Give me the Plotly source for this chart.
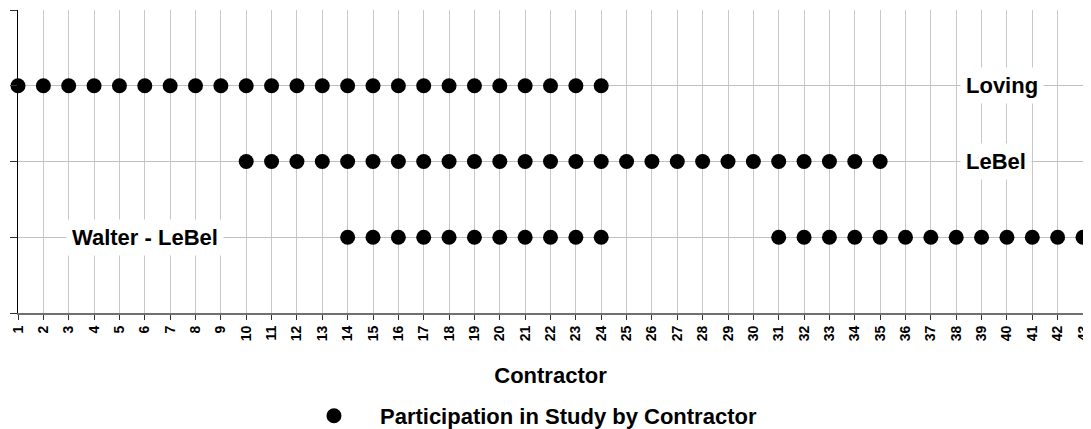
import plotly.graph_objects as go

contractors = list(range(1, 44))
row_labels = ["Walter - LeBel", "LeBel", "Loving"]
row_levels = [1, 2, 3]

loving = [1, 2, 3, 4, 5, 6, 7, 8, 9, 10, 11, 12, 13, 14, 15, 16, 17, 18, 19, 20, 21, 22, 23, 24]
lebel = [10, 11, 12, 13, 14, 15, 16, 17, 18, 19, 20, 21, 22, 23, 24, 25, 26, 27, 28, 29, 30, 31, 32, 33, 34, 35]
walter_lebel = [14, 15, 16, 17, 18, 19, 20, 21, 22, 23, 24, 31, 32, 33, 34, 35, 36, 37, 38, 39, 40, 41, 42, 43]

label_x = [6.0, 39.57, 39.8]  # label positions (Walter-LeBel, LeBel, Loving)

xs = loving + lebel + walter_lebel
ys = [3] * len(loving) + [2] * len(lebel) + [1] * len(walter_lebel)

FONT = "Liberation Sans, Arial"

fig = go.Figure()
fig.add_trace(go.Scatter(
    x=xs, y=ys, mode="markers",
    marker=dict(color="black", size=15, symbol="circle"),
    name="<b>Participation in Study by Contractor</b>",
    cliponaxis=False, showlegend=True,
))

for lab, lvl, lx in zip(row_labels, row_levels, label_x):
    fig.add_annotation(x=lx, y=lvl, text="<b>" + lab + "</b>", showarrow=False,
                       font=dict(family=FONT, size=22, color="black"),
                       bgcolor="white", borderpad=5)

# the page body adds an 8px offset; figure sized to fill the rest of the window
fig.update_layout(
    width=1083, height=421,
    margin=dict(l=10, r=8, t=2, b=116, autoexpand=False),
    plot_bgcolor="white", paper_bgcolor="white",
    font=dict(family=FONT, color="black"),
    showlegend=True,
    legend=dict(orientation="h", x=0.2535, xanchor="left", y=-0.34, yanchor="middle",
                font=dict(size=22), itemwidth=82, bgcolor="rgba(0,0,0,0)"),
)
fig.update_xaxes(
    range=[1, 43], tickmode="array", tickvals=contractors,
    ticktext=["<b>%d</b>" % c for c in contractors],
    tickangle=-90, tickfont=dict(size=14),
    showgrid=True, gridcolor="#c8c8c8", gridwidth=1,
    showline=True, linecolor="#707070", linewidth=2,
    ticks="outside", ticklen=5, tickcolor="#333333",
    zeroline=False, automargin=False,
    title=dict(text="<b>Contractor</b>", font=dict(size=22), standoff=27),
)
fig.update_yaxes(
    range=[0, 4], tickmode="array", tickvals=[0, 1, 2, 3, 4], showticklabels=False,
    showgrid=True, gridcolor="#c0c0c0", gridwidth=1,
    showline=True, linecolor="black", linewidth=1,
    ticks="outside", ticklen=7, tickcolor="#333333",
    zeroline=False, automargin=False,
)
fig.write_html("out.html")
